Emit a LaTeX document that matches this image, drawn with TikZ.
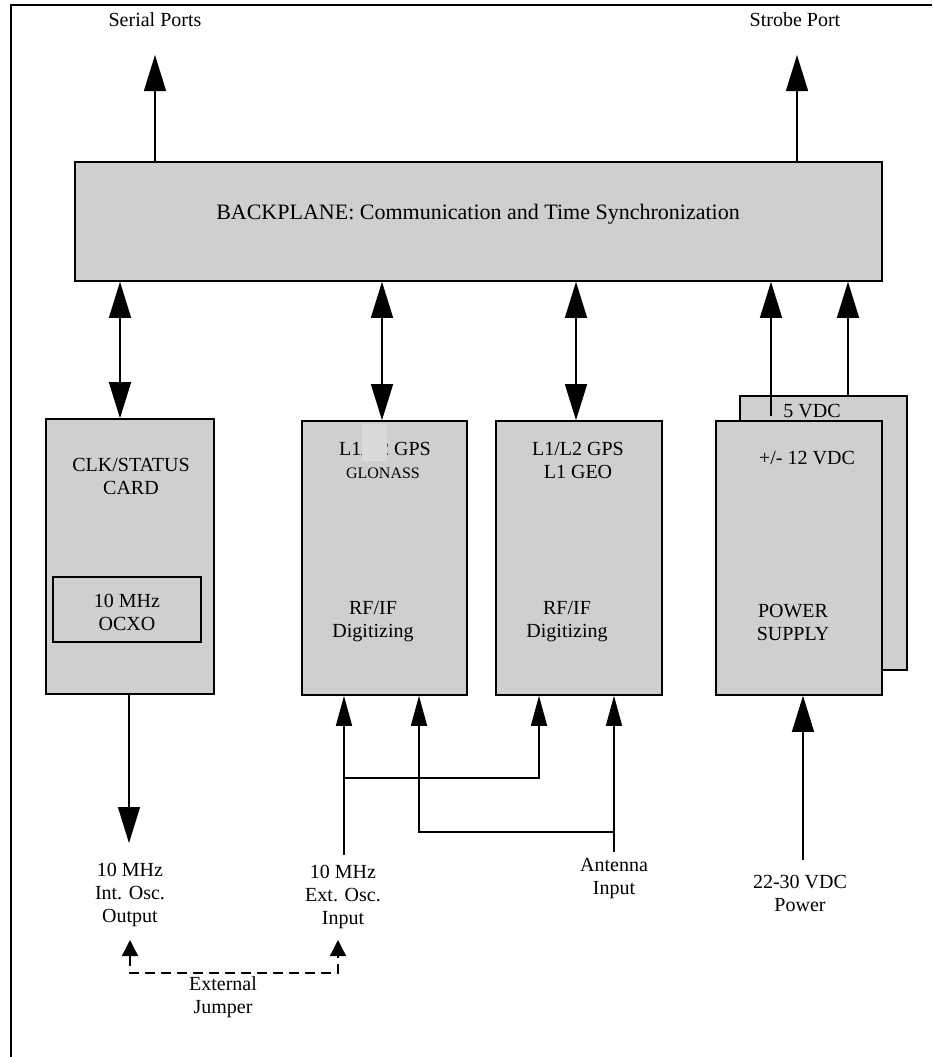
\documentclass[tikz,border=0pt]{standalone}
\usepackage{fontspec}
\setmainfont{Liberation Serif}
\usetikzlibrary{arrows.meta}
\definecolor{cardgray}{HTML}{CFCFCF}
\definecolor{patchgray}{HTML}{DADADA}
\tikzset{
	cardbox/.style={draw, line width=1.6pt, fill=cardgray, inner sep=0pt},
	lbl/.style={align=center, inner sep=0pt, font=\fontsize{20}{23}\selectfont},
	wire/.style={line width=1.4pt},
	bigtip/.tip={Triangle[width=22pt,length=36pt]},
	smalltip/.tip={Triangle[width=16pt,length=30pt]},
	jumptip/.tip={Triangle[width=16pt,length=16pt]},
}
\begin{document}
\begin{tikzpicture}[x=1pt, y=-1pt]
		\useasboundingbox (0,0) rectangle (932,1057);
		\draw [line width=1.6pt] (11,1057) -- (11,5) -- (932,5);
		% boxes
		\node[cardbox, minimum width=807pt, minimum height=119pt] (bp) at (478.5,221.5) {};
		\node[cardbox, minimum width=168pt, minimum height=275pt] (clk) at (130,556.5) {};
		\node[cardbox, minimum width=148pt, minimum height=65pt] (ocxo) at (127,609.5) {};
		\node[cardbox, minimum width=165pt, minimum height=274pt] (gpsa) at (384.5,558) {};
		\node[cardbox, minimum width=166pt, minimum height=274pt] (gpsb) at (579,558) {};
		\node[cardbox, minimum width=167pt, minimum height=274pt] (pwrback) at (823.5,533) {};
		\node[cardbox, minimum width=166pt, minimum height=274pt] (pwr) at (799,558) {};
		% texts
		\node[lbl] (serial) at (155,20) {Serial Ports};
		\node[lbl] (strobe) at (795,20) {Strobe Port};
		\node[lbl, font=\fontsize{22}{25}\selectfont] (bptext) at (478,214) {BACKPLANE: Communication and Time Synchronization};
		\node[lbl] (clktext) at (131,476) {CLK/STATUS\\CARD};
		\node[lbl] (ocxotext) at (127,612) {10 MHz\\OCXO};
		\node[lbl] (gpsatext) at (385,449) {L1/L2 GPS};
		\node[lbl, font=\fontsize{16}{18}\selectfont] (glonass) at (383,473) {GLONASS};
		\fill [patchgray] (362,424) rectangle (387,461);
		\node[lbl] (gpsbtext) at (578,460) {L1/L2 GPS\\L1 GEO};
		\node[lbl] (rfa) at (373,622) {RF/IF\\Digitizing};
		\node[lbl] (rfb) at (567,622) {RF/IF\\Digitizing};
		\node[lbl] (fivevdc) at (812,411) {5 VDC};
		\node[lbl] (twelvevdc) at (807,458) {+/- 12 VDC};
		\node[lbl] (pwrtext) at (793,622) {POWER\\SUPPLY};
		\node[lbl] (intosc) at (130,895) {10 MHz\\Int. Osc.\\Output};
		\node[lbl] (extosc) at (343,897) {10 MHz\\Ext. Osc.\\Input};
		\node[lbl] (antenna) at (614,879) {Antenna\\Input};
		\node[lbl] (pwrin) at (800,893) {22-30 VDC\\Power};
		\node[lbl] (jumper) at (223,997) {External\\Jumper};
		% connector ends
		\coordinate (serialtip) at (155,55);
		\coordinate (strobetip) at (797,55);
		\coordinate (twelveend) at (771,416);
		\coordinate (inttip) at (129,843);
		\coordinate (extend) at (344,855);
		\coordinate (antend) at (614,852);
		\coordinate (pwrend) at (803,860);
		\coordinate (jumpa) at (130,940);
		\coordinate (jumpb) at (338,940);
		% arrows
		\draw [wire, -bigtip] (bp.north -| serialtip) -- (serialtip);
		\draw [wire, -bigtip] (bp.north -| strobetip) -- (strobetip);
		\draw [wire, bigtip-bigtip] ([xshift=-10pt]bp.south -| clk) -- ([xshift=-10pt]clk.north);
		\draw [wire, bigtip-bigtip] ([xshift=-2.5pt]bp.south -| gpsa) -- ([xshift=-2.5pt]gpsa.north);
		\draw [wire, bigtip-bigtip] ([xshift=-3pt]bp.south -| gpsb) -- ([xshift=-3pt]gpsb.north);
		\draw [wire, -bigtip] (twelveend) -- (twelveend |- bp.south);
		\draw [wire, -bigtip] (pwrback.north -| 848,0) -- (bp.south -| 848,0);
		\draw [wire, -bigtip] (clk.south -| inttip) -- (inttip);
		\draw [wire, -smalltip] (extend) -- (extend |- gpsa.south);
		\draw [wire, -smalltip] (extend |- 0,778) -| (gpsb.south -| 539,0);
		\draw [wire, -smalltip] (antend) -- (antend |- gpsb.south);
		\draw [wire, -smalltip] (antend |- 0,832) -| (gpsa.south -| 419,0);
		\draw [wire, -bigtip] (pwrend) -- (pwrend |- pwr.south);
		\draw [wire, dash pattern=on 10pt off 6pt, jumptip-jumptip] (jumpa) -- (jumpa |- 0,973) -- (jumpb |- 0,973) -- (jumpb);
\end{tikzpicture}
\end{document}
